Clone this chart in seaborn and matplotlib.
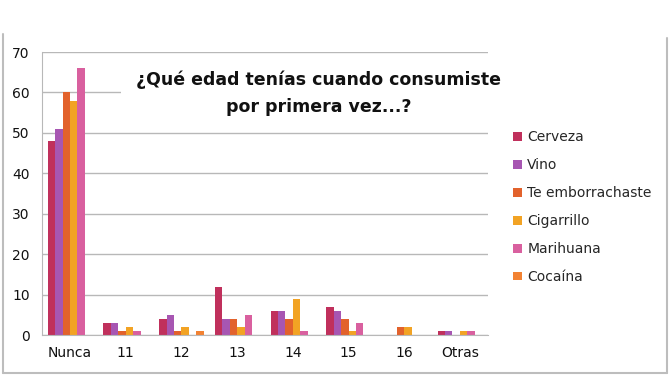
import pandas as pd
import numpy as np
import matplotlib.pyplot as plt
import seaborn as sns
from matplotlib.lines import Line2D
from matplotlib.patches import Patch

# Data
categories = ['Nunca', '11', '12', '13', '14', '15', '16', 'Otras']
series = ['Cerveza', 'Vino', 'Te emborrachaste', 'Cigarrillo', 'Marihuana', 'Cocaína']
cerveza = [48, 3, 4, 12, 6, 7, 0, 1]
vino = [51, 3, 5, 4, 6, 6, 0, 1]
emborrachaste = [60, 1, 1, 4, 4, 4, 2, 0]
cigarrillo = [58, 2, 2, 2, 9, 1, 2, 1]
marihuana = [66, 1, 0, 5, 1, 3, 0, 1]
cocaina = [0, 0, 1, 0, 0, 0, 0, 0]
yticks = [0, 10, 20, 30, 40, 50, 60, 70]

colors = ['#C0305C', '#A756B2', '#E2622C', '#F2A324', '#D9609F', '#F28232']

values = [cerveza, vino, emborrachaste, cigarrillo, marihuana, cocaina]
rows = []
for name, vals in zip(series, values):
    for cat, v in zip(categories, vals):
        rows.append({'Edad': cat, 'Serie': name, 'Valor': v})
df = pd.DataFrame(rows)

sns.set_style('white')
plt.rcParams['font.family'] = ['DejaVu Sans']

fig = plt.figure(figsize=(6.7, 3.77), dpi=100)
ax = fig.add_axes([0.063, 0.111, 0.665, 0.751])

sns.barplot(data=df, x='Edad', y='Valor', hue='Serie', order=categories,
            hue_order=series, palette=colors, width=0.8, saturation=1,
            edgecolor='none', ax=ax, legend=False)

ax.set_ylim(0, 70)
ax.set_yticks(yticks)
ax.set_xlim(-0.5, len(categories) - 0.5)
ax.yaxis.grid(True, color='#B8B8B8', linewidth=1)
ax.set_axisbelow(True)
ax.set_xlabel('')
ax.set_ylabel('')
for s in ['top', 'right']:
    ax.spines[s].set_visible(False)
ax.spines['left'].set_color('#B8B8B8')
ax.spines['bottom'].set_color('#B8B8B8')
ax.tick_params(axis='both', length=0, labelsize=10, colors='#111111')
ax.tick_params(axis='y', pad=9)
ax.tick_params(axis='x', pad=8)

ax.text(0.62, 0.855, '¿Qué edad tenías cuando consumiste\npor primera vez...?',
        transform=ax.transAxes, ha='center', va='center', fontsize=12.5,
        fontweight='bold', color='#111111', linespacing=1.6,
        bbox=dict(facecolor='white', edgecolor='none', pad=11))

handles = [Patch(facecolor=c, edgecolor='none') for c in colors]
fig.legend(handles, series, loc='upper left', bbox_to_anchor=(0.76, 0.665),
           frameon=False, fontsize=10, handlelength=0.6, handleheight=0.6,
           handletextpad=0.4, labelspacing=1.0,
           borderaxespad=0, borderpad=0.3)

# outer chart border
border = '#BDBDBD'
fig.add_artist(Line2D([0.004, 0.004], [0.01, 0.91], color=border, lw=1.5))
fig.add_artist(Line2D([0.996, 0.996], [0.01, 0.90], color=border, lw=1.5))
fig.add_artist(Line2D([0.004, 0.996], [0.01, 0.01], color=border, lw=1.5))

fig.savefig('out.png', dpi=100)
